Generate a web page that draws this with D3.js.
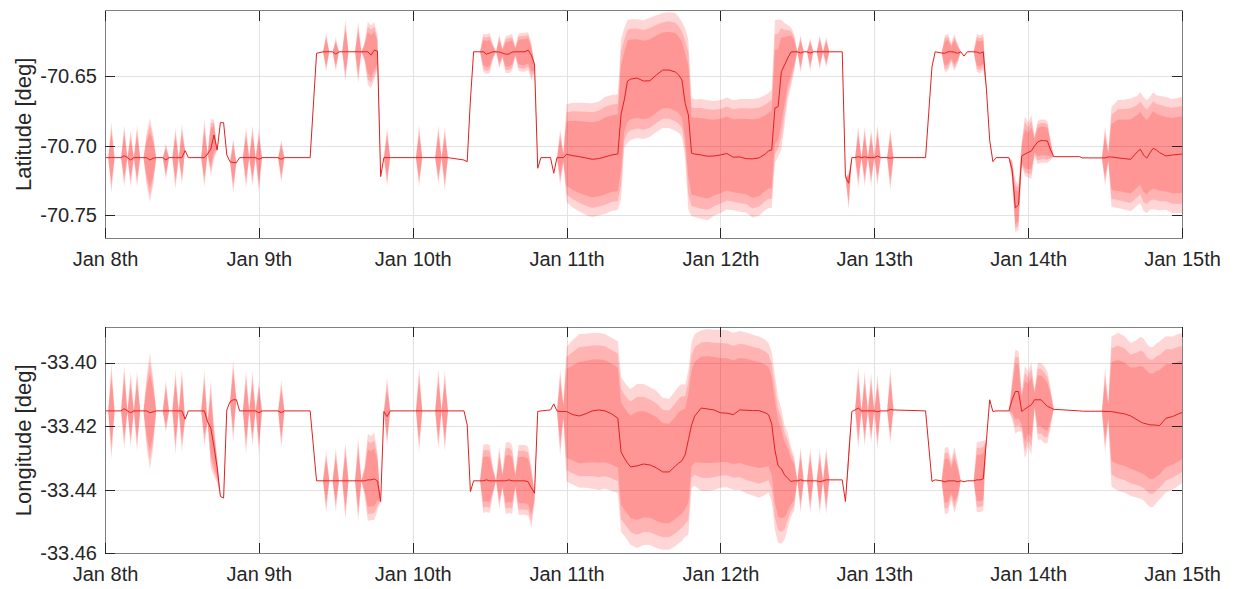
<!DOCTYPE html>
<meta charset="utf-8">
<style>
body { margin: 0; background: #fff; }
svg { font-family: "Liberation Sans", Arial, sans-serif; }
.grid line { stroke: #e2e2e2; shape-rendering: crispEdges; }
.grid path { stroke-width: 0; }
.tk line { stroke: #262626; shape-rendering: crispEdges; }
.tk path { stroke-width: 0; }
.tk text { fill: #262626; font-size: 20px; font-family: "Liberation Sans", Arial, sans-serif; }
.frame { fill: none; stroke: #808080; shape-rendering: crispEdges; }
.band { fill: #ff0000; fill-opacity: 0.16; stroke: none; }
.med { fill: none; stroke: #e0201e; stroke-width: 1; }
.titleAxis { font-size: 22px; fill: #262626; }
</style>
<body>
<script src="https://d3js.org/d3.v7.min.js"></script>
<script>

// hours after Jan 8th 00:00
var hours = [
  0,0.5,1,1.5,2.5,3,3.5,4,4.5,5,5.5,6,6.5,7,7.5,8,9,9.5,10,10.5,11,11.5,12,12.5,13,
  15,15.5,16,16.5,17,17.5,18,18.5,19,19.5,20,20.5,21,21.5,22,22.5,23,23.5,24,24.5,27,27.5,28,
  32,33,34,34.5,35,35.5,36,36.5,37,37.5,38,39,39.5,40,40.5,41,41.5,42,42.5,43,43.5,44,44.5,
  48.5,49,49.5,51.5,52,52.5,53,53.5,56,56.5,57,57.5,58.5,59,59.5,60,60.5,61,61.5,62,62.5,63,63.5,64,64.5,65,65.5,66,66.5,67,67.5,68,69.5,70,70.5,71,71.5,
  72,73,74,75,76,77,78,79,80,80.5,81,81.5,82,83,84,85,86,87,88,89,89.5,90,90.5,91,91.5,92,93,94,95,96,97,98,99,100,101,102,103,103.5,104,104.5,105,105.5,106,106.5,107,107.5,
  108,108.5,109,109.5,110,110.5,111,111.5,112,112.5,113,115,115.5,116,116.5,117,117.5,118,118.5,119,119.5,120,120.5,121,122,122.5,123,128,129,129.5,
  130.5,131,131.5,132,132.5,133,133.5,134,134.5,135.5,136,136.5,137,137.5,138,138.5,139,141,141.5,142,142.5,143,143.5,144,144.5,145,145.5,146,146.5,147,147.5,148,152,152.5,155.5,156,156.5,
  157,158,159,160,161,161.5,162,162.5,163,163.5,164,164.5,165.5,166.5,167.5,168
];

var dayLabels = ["Jan 8th", "Jan 9th", "Jan 10th", "Jan 11th", "Jan 12th", "Jan 13th", "Jan 14th", "Jan 15th"];

// latitude: median and spread of the outer band (above / below), deg
var latMed = [
  -70.7086,-70.7086,-70.7086,-70.7086,-70.7086,-70.7072,-70.7086,-70.7103,-70.7086,-70.7086,-70.7086,-70.7086,-70.7086,-70.7103,-70.7090,-70.7086,-70.7086,-70.7103,-70.7086,-70.7086,-70.7086,-70.7086,-70.7086,-70.7036,-70.7086,
  -70.7086,-70.7086,-70.7060,-70.7024,-70.6923,-70.7031,-70.6835,-70.6835,-70.7067,-70.7115,-70.7122,-70.7122,-70.7086,-70.7086,-70.7086,-70.7086,-70.7086,-70.7086,-70.7098,-70.7086,-70.7086,-70.7098,-70.7086,
  -70.7086,-70.6337,-70.6326,-70.6326,-70.6326,-70.6326,-70.6343,-70.6326,-70.6326,-70.6326,-70.6326,-70.6326,-70.6326,-70.6326,-70.6326,-70.6326,-70.6350,-70.6314,-70.6321,-70.7222,-70.7086,-70.7086,-70.7086,
  -70.7086,-70.7086,-70.7086,-70.7086,-70.7086,-70.7086,-70.7086,-70.7086,-70.7103,-70.7115,-70.6672,-70.6326,-70.6326,-70.6326,-70.6343,-70.6335,-70.6326,-70.6326,-70.6328,-70.6335,-70.6343,-70.6343,-70.6328,-70.6326,-70.6326,-70.6326,-70.6326,-70.6314,-70.6350,-70.6414,-70.7162,-70.7086,-70.7086,-70.7198,-70.7086,-70.7086,-70.7086,
  -70.7062,-70.7072,-70.7079,-70.7088,-70.7098,-70.7093,-70.7081,-70.7067,-70.7060,
  -70.6773,-70.6672,-70.6536,-70.6522,-70.6515,-70.6536,-70.6534,-70.6493,-70.6457,-70.6457,-70.6472,-70.6493,-70.6529,-70.6696,-70.6780,-70.7054,
  -70.7060,-70.7067,-70.7076,-70.7074,-70.7067,-70.7056,-70.7083,-70.7081,-70.7093,-70.7095,-70.7088,-70.7060,-70.7038,-70.7031,-70.6730,-70.6720,-70.6469,-70.6421,-70.6371,-70.6328,-70.6326,
  -70.6326,-70.6335,-70.6326,-70.6326,-70.6335,-70.6326,-70.6326,-70.6326,-70.6326,-70.6326,-70.6326,-70.6326,-70.7222,-70.7270,-70.7086,-70.7086,-70.7079,-70.7086,-70.7081,-70.7086,-70.7086,-70.7086,-70.7074,-70.7086,-70.7086,-70.7090,-70.7086,-70.7086,-70.6434,-70.6326,
  -70.6335,-70.6337,-70.6326,-70.6326,-70.6328,-70.6337,-70.6326,-70.6357,-70.6326,-70.6326,-70.6328,-70.6337,-70.6326,-70.6601,-70.6959,-70.7115,-70.7086,-70.7086,-70.7174,-70.7447,-70.7425,-70.7074,-70.7060,-70.7049,-70.7038,-70.7002,-70.6973,-70.6964,-70.6964,-70.6966,-70.7031,-70.7079,-70.7079,-70.7088,-70.7088,-70.7088,-70.7081,
  -70.7081,-70.7088,-70.7093,-70.7098,-70.7045,-70.7026,-70.7067,-70.7090,-70.7052,-70.7019,-70.7031,-70.7050,-70.7074,-70.7067,-70.7063,-70.7060
];
var latUp = [
  0,0,.0258,0,0,.0222,0,.0215,0,.0237,0,0,.0179,.0301,.0179,0,0,.0122,0,0,.0215,0,.0244,0,0,
  0,.0280,0,.0215,.0108,0,0,0,0,0,.0179,0,0,0,.0222,0,.0237,0,.0222,0,0,.0143,0,
  0,0,0,.0136,0,0,.0122,0,0,.0229,0,0,.0215,0,.0072,.0215,.0215,.0201,.0108,0,0,.0222,0,
  0,.0237,0,0,.0237,0,.0222,0,0,0,0,0,0,.0129,.0143,.0143,.0057,0,.0129,.0036,.0129,.0136,.0129,.0036,.0129,.0136,.0136,.0129,.0086,0,0,0,0,0,0,.0208,.0036,
  .0359,.0380,.0387,.0394,.0402,.0409,.0430,.0430,.0430,
  .0538,.0516,.0437,.0430,.0423,.0437,.0452,.0430,.0409,.0416,.0423,.0416,.0416,.0538,.0538,.0394,
  .0394,.0402,.0402,.0394,.0394,.0402,.0409,.0416,.0430,.0430,.0430,.0423,.0416,.0430,.0631,.0624,.0373,.0301,.0237,.0179,.0129,
  0,.0129,0,0,.0108,0,0,.0122,0,.0108,0,0,0,.0072,0,0,.0222,0,.0222,0,.0208,0,.0229,0,0,.0215,0,0,0,0,
  0,.0129,.0129,.0057,.0129,.0072,0,0,0,0,.0129,.0129,.0129,0,0,0,0,0,.0072,.0201,.0143,.0108,.0272,.0215,.0258,.0072,.0151,.0151,.0151,.0143,.0072,0,0,0,0,.0229,.0036,
  .0359,.0416,.0423,.0437,.0402,.0409,.0416,.0416,.0402,.0402,.0394,.0409,.0423,.0402,.0409,.0409
];
var latDn = [
  0,0,.0258,0,0,.0229,0,.0194,0,.0215,0,0,.0201,.0301,.0201,0,0,.0143,0,0,.0229,0,.0194,0,0,
  0,.0215,0,.0194,.0179,0,0,0,0,0,.0222,0,0,0,.0222,0,.0208,0,.0244,0,0,.0172,0,
  0,0,0,.0143,0,0,.0122,0,0,.0215,0,0,.0229,0,.0072,.0237,.0237,.0215,.0129,0,0,.0208,0,
  0,.0215,0,0,.0194,0,.0244,0,0,0,0,0,0,.0143,.0143,.0143,.0057,0,.0122,.0036,.0136,.0136,.0136,.0036,.0136,.0143,.0143,.0143,.0179,.0072,0,0,0,0,0,.0201,.0036,
  .0344,.0373,.0394,.0409,.0416,.0409,.0409,.0402,.0402,
  .0609,.0344,.0445,.0437,.0430,.0416,.0402,.0409,.0416,.0416,.0423,.0416,.0409,.0394,.0681,.0452,
  .0452,.0459,.0459,.0430,.0416,.0402,.0380,.0394,.0387,.0423,.0416,.0402,.0409,.0416,.0394,.0359,.0559,.0430,.0301,.0251,.0143,
  0,.0143,0,0,.0129,0,0,.0129,0,.0115,0,0,0,.0194,0,0,.0229,0,.0215,0,.0208,0,.0215,0,0,.0237,0,0,0,0,
  0,.0136,.0136,.0072,.0136,.0072,0,0,0,0,.0143,.0143,.0129,0,0,0,0,0,.0072,.0179,.0179,.0072,.0158,.0179,.0201,.0072,.0158,.0158,.0158,.0158,.0072,0,0,0,0,.0201,.0036,
  .0359,.0359,.0366,.0373,.0387,.0387,.0402,.0394,.0409,.0437,.0430,.0416,.0387,.0416,.0423,.0423
];

// longitude: median and spread of the outer band (above / below), deg
var lonMed = [
  -33.4152,-33.4152,-33.4152,-33.4152,-33.4152,-33.4145,-33.4152,-33.4158,-33.4152,-33.4152,-33.4152,-33.4152,-33.4152,-33.4158,-33.4155,-33.4152,-33.4152,-33.4152,-33.4152,-33.4152,-33.4152,-33.4152,-33.4152,-33.4178,-33.4152,
  -33.4152,-33.4152,-33.4186,-33.4206,-33.4264,-33.4331,-33.4421,-33.4426,-33.4149,-33.4123,-33.4117,-33.4117,-33.4152,-33.4152,-33.4152,-33.4152,-33.4152,-33.4152,-33.4158,-33.4152,-33.4152,-33.4158,-33.4152,
  -33.4152,-33.4372,-33.4372,-33.4372,-33.4372,-33.4372,-33.4372,-33.4372,-33.4372,-33.4372,-33.4372,-33.4372,-33.4372,-33.4372,-33.4372,-33.4369,-33.4369,-33.4366,-33.4372,-33.4437,-33.4154,-33.4170,-33.4152,
  -33.4152,-33.4152,-33.4152,-33.4152,-33.4152,-33.4152,-33.4152,-33.4152,-33.4152,-33.4196,-33.4406,-33.4372,-33.4372,-33.4372,-33.4369,-33.4372,-33.4372,-33.4372,-33.4372,-33.4372,-33.4372,-33.4369,-33.4372,-33.4372,-33.4372,-33.4372,-33.4372,-33.4375,-33.4394,-33.4411,-33.4154,-33.4152,-33.4149,-33.4130,-33.4152,-33.4154,-33.4154,
  -33.4154,-33.4164,-33.4168,-33.4161,-33.4152,-33.4149,-33.4152,-33.4161,-33.4175,
  -33.4281,-33.4300,-33.4316,-33.4328,-33.4325,-33.4319,-33.4322,-33.4331,-33.4344,-33.4344,-33.4325,-33.4316,-33.4309,-33.4290,-33.4243,-33.4196,
  -33.4168,-33.4143,-33.4146,-33.4149,-33.4158,-33.4159,-33.4164,-33.4149,-33.4150,-33.4151,-33.4151,-33.4158,-33.4164,-33.4193,-33.4275,-33.4325,-33.4334,-33.4353,-33.4364,-33.4374,-33.4372,
  -33.4372,-33.4369,-33.4372,-33.4372,-33.4372,-33.4372,-33.4372,-33.4375,-33.4372,-33.4369,-33.4369,-33.4369,-33.4437,-33.4296,-33.4154,-33.4149,-33.4143,-33.4152,-33.4152,-33.4152,-33.4152,-33.4152,-33.4155,-33.4152,-33.4152,-33.4147,-33.4149,-33.4152,-33.4374,-33.4369,
  -33.4372,-33.4375,-33.4372,-33.4372,-33.4372,-33.4375,-33.4372,-33.4375,-33.4372,-33.4372,-33.4369,-33.4369,-33.4366,-33.4243,-33.4117,-33.4154,-33.4152,-33.4152,-33.4117,-33.4091,-33.4091,-33.4154,-33.4146,-33.4139,-33.4133,-33.4117,-33.4117,-33.4117,-33.4127,-33.4138,-33.4142,-33.4147,-33.4152,-33.4153,-33.4153,-33.4154,-33.4154,
  -33.4154,-33.4158,-33.4161,-33.4168,-33.4180,-33.4186,-33.4191,-33.4193,-33.4196,-33.4196,-33.4197,-33.4198,-33.4175,-33.4170,-33.4161,-33.4157
];
var lonUp = [
  0,0,.0151,0,0,.0138,0,.0129,0,.0129,0,0,.0110,.0189,.0110,0,0,.0097,0,0,.0129,0,.0135,0,0,
  0,.0129,0,.0151,.0063,.0031,0,0,0,0,.0126,0,0,0,.0129,0,.0126,0,.0101,0,0,.0104,0,
  0,0,0,.0097,0,0,.0104,0,0,.0123,0,0,.0138,0,.0047,.0145,.0138,.0145,.0094,0,0,.0126,0,
  0,.0138,0,0,.0135,0,.0129,0,0,0,0,0,0,.0113,.0113,.0113,.0047,0,.0110,.0025,.0120,.0120,.0113,.0025,.0113,.0113,.0113,.0110,.0069,0,0,0,0,0,0,.0135,.0025,
  .0204,.0236,.0258,.0252,.0245,.0242,.0242,.0239,.0242,
  .0236,.0239,.0242,.0245,.0258,.0252,.0245,.0242,.0233,.0230,.0236,.0242,.0242,.0220,.0220,.0261,
  .0258,.0245,.0252,.0252,.0261,.0261,.0258,.0248,.0245,.0239,.0233,.0230,.0226,.0226,.0236,.0214,.0189,.0157,.0142,.0110,.0079,
  0,.0104,0,0,.0104,0,0,.0104,0,.0104,0,0,0,.0031,0,0,.0132,0,.0126,0,.0120,0,.0116,0,0,.0132,0,0,0,0,
  0,.0107,.0107,.0063,.0107,.0063,0,0,0,0,.0120,.0120,.0120,0,0,0,0,0,.0063,.0132,.0126,.0063,.0135,.0110,.0135,.0031,.0116,.0116,.0116,.0110,.0063,0,0,0,0,.0138,.0031,
  .0236,.0252,.0245,.0230,.0252,.0267,.0267,.0252,.0245,.0245,.0258,.0264,.0258,.0252,.0252,.0248
];
var lonDn = [
  0,0,.0154,0,0,.0129,0,.0110,0,.0129,0,0,.0116,.0179,.0116,0,0,.0069,0,0,.0138,0,.0132,0,0,
  0,.0113,0,.0126,.0094,.0047,0,0,0,0,.0135,0,0,0,.0138,0,.0113,0,.0129,0,0,.0113,0,
  0,0,0,.0101,0,0,.0097,0,0,.0123,0,0,.0129,0,.0047,.0129,.0126,.0129,.0094,0,0,.0094,0,
  0,.0132,0,0,.0123,0,.0129,0,0,0,0,0,0,.0101,.0101,.0101,.0047,0,.0088,.0025,.0104,.0104,.0104,.0025,.0107,.0107,.0107,.0107,.0126,.0031,0,0,0,0,0,.0142,.0025,
  .0220,.0220,.0226,.0233,.0245,.0252,.0245,.0242,.0236,
  .0252,.0245,.0242,.0245,.0258,.0255,.0252,.0252,.0245,.0245,.0252,.0252,.0252,.0258,.0299,.0198,
  .0220,.0261,.0258,.0252,.0236,.0233,.0236,.0252,.0261,.0267,.0274,.0258,.0245,.0245,.0252,.0242,.0236,.0204,.0157,.0110,.0094,
  0,.0104,0,0,.0104,0,0,.0104,0,.0110,0,0,0,.0031,0,0,.0132,0,.0113,0,.0104,0,.0120,0,0,.0110,0,0,0,0,
  0,.0101,.0101,.0057,.0101,.0063,0,0,0,0,.0101,.0101,.0101,0,0,0,0,0,.0063,.0132,.0126,.0063,.0157,.0126,.0157,.0031,.0126,.0126,.0126,.0116,.0063,0,0,0,0,.0132,.0031,
  .0236,.0245,.0248,.0252,.0245,.0242,.0242,.0252,.0258,.0258,.0245,.0233,.0233,.0230,.0226,.0223
];

var latTicks = [-70.75, -70.70, -70.65];
var lonTicks = [-33.46, -33.44, -33.42, -33.40];
// outer, middle and inner band as a share of the outer spread
var bandLevels = [1, 0.84, 0.66];

var W = 1235, H = 589;
var left = 105, right = 1182;

var svg = d3.select("body").append("svg")
    .attr("width", W)
    .attr("height", H);

var x = d3.scaleLinear().domain([0, 168]).range([left, right]);
var dayTicks = dayLabels.map(function(d, i) { return i * 24; });

var panels = [
  {top: 10.7, bottom: 238, med: latMed, up: latUp, dn: latDn,
   domain: [-70.7663, -70.6031], ticks: latTicks, label: "Latitude [deg]"},
  {top: 327.3, bottom: 553.3, med: lonMed, up: lonUp, dn: lonDn,
   domain: [-33.46, -33.3889], ticks: lonTicks, label: "Longitude [deg]"}
];

panels.forEach(function(p, pi) {
  var y = d3.scaleLinear().domain(p.domain).range([p.bottom, p.top]);
  var n = Math.min(hours.length, p.med.length, p.up.length, p.dn.length);
  var data = d3.range(n).map(function(i) {
    return {h: hours[i], m: p.med[i], u: p.up[i], d: p.dn[i]};
  });

  var g = svg.append("g");

  // grid
  g.append("g")
      .attr("class", "grid")
      .attr("transform", "translate(0," + p.bottom + ")")
      .call(d3.axisBottom(x).tickValues(dayTicks).tickSize(-(p.bottom - p.top)).tickFormat(""));
  g.append("g")
      .attr("class", "grid")
      .attr("transform", "translate(" + left + ",0)")
      .call(d3.axisLeft(y).tickValues(p.ticks).tickSize(-(right - left)).tickFormat(""));

  svg.append("clipPath").attr("id", "clip" + pi)
    .append("rect")
      .attr("x", left).attr("y", p.top)
      .attr("width", right - left).attr("height", p.bottom - p.top);

  var plot = g.append("g").attr("clip-path", "url(#clip" + pi + ")");

  bandLevels.forEach(function(k) {
    var area = d3.area()
        .x(function(d) { return x(d.h); })
        .y0(function(d) { return y(d.m - k * d.d); })
        .y1(function(d) { return y(d.m + k * d.u); });
    plot.append("path")
        .datum(data)
        .attr("class", "band")
        .attr("d", area);
  });

  plot.append("path")
      .datum(data)
      .attr("class", "med")
      .attr("d", d3.line()
          .x(function(d) { return x(d.h); })
          .y(function(d) { return y(d.m); }));

  // box
  g.append("rect")
      .attr("class", "frame")
      .attr("x", left).attr("y", p.top)
      .attr("width", right - left).attr("height", p.bottom - p.top);

  // ticks, MATLAB style (inside, on all four sides)
  g.append("g")
      .attr("class", "tk")
      .attr("transform", "translate(0," + p.bottom + ")")
      .call(d3.axisBottom(x).tickValues(dayTicks).tickSize(-10).tickPadding(14)
          .tickFormat(function(d, i) { return dayLabels[i]; }));
  g.append("g")
      .attr("class", "tk")
      .attr("transform", "translate(0," + p.top + ")")
      .call(d3.axisTop(x).tickValues(dayTicks).tickSize(-10).tickFormat(""));
  g.append("g")
      .attr("class", "tk")
      .attr("transform", "translate(" + left + ",0)")
      .call(d3.axisLeft(y).tickValues(p.ticks).tickSize(-10).tickPadding(8)
          .tickFormat(function(d) { return d.toFixed(2); }));
  g.append("g")
      .attr("class", "tk")
      .attr("transform", "translate(" + right + ",0)")
      .call(d3.axisRight(y).tickValues(p.ticks).tickSize(-10).tickFormat(""));

  // y label
  g.append("text")
      .attr("class", "titleAxis")
      .attr("transform", "translate(31," + ((p.top + p.bottom) / 2) + ") rotate(-90)")
      .style("text-anchor", "middle")
      .text(p.label);
});

</script>
</body>
